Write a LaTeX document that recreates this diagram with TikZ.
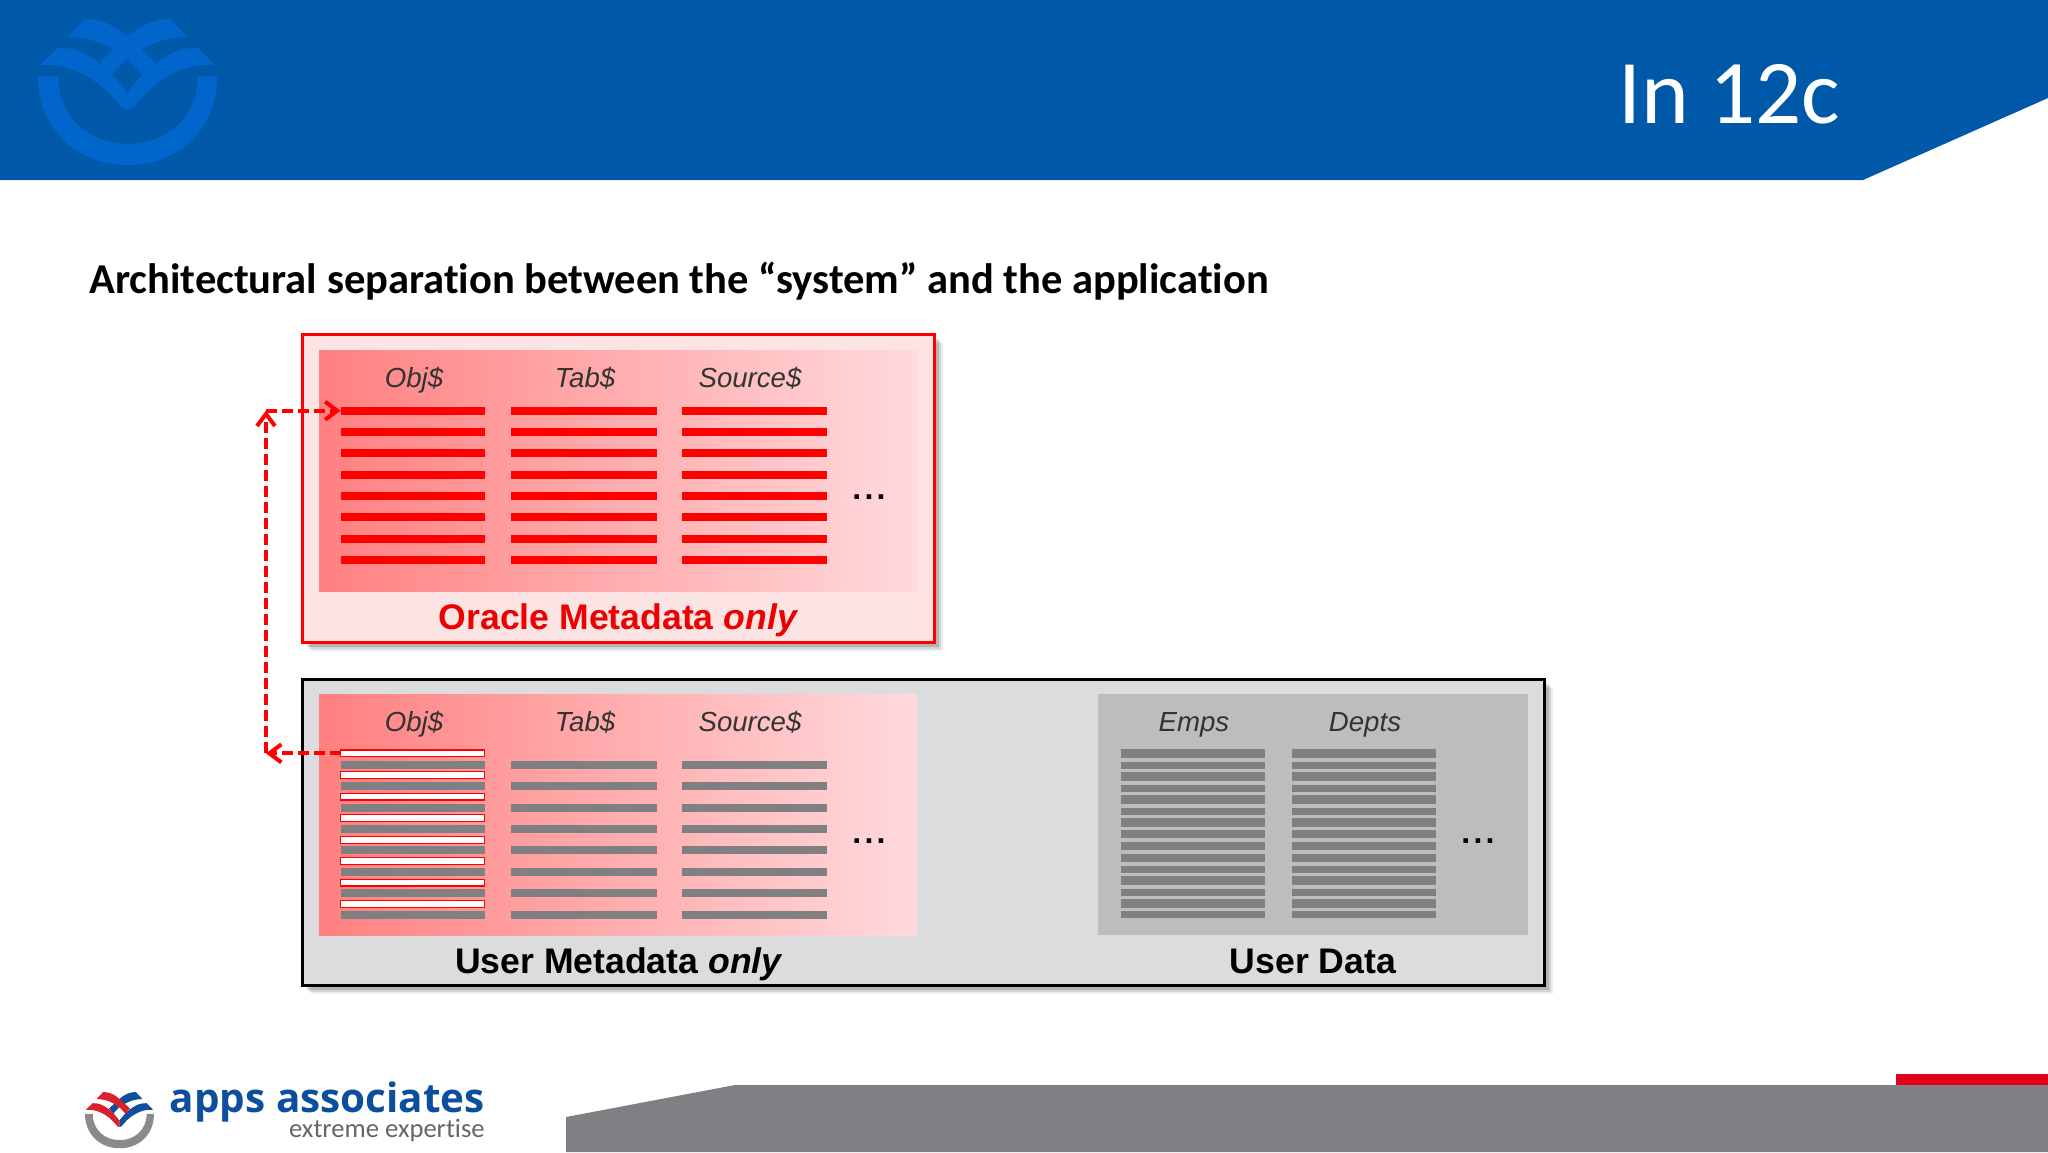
\documentclass[tikz,border=0pt]{standalone}
\usepackage{fontspec}
\setmainfont{Liberation Sans}
\newfontfamily\carlito[Ligatures=NoCommon]{Carlito}
\newfontfamily\opensans{Open Sans}
\newfontfamily\dotsfont[LetterSpace=10]{Liberation Sans}
\usetikzlibrary{arrows.meta}
\definecolor{hdrblue}{HTML}{0059A8}
\definecolor{logoblue}{HTML}{0066CC}
\definecolor{footgray}{HTML}{807F83}
\definecolor{footred}{HTML}{E2001A}
\definecolor{brandblue}{HTML}{0B4F9E}
\definecolor{brandred}{HTML}{D9202C}
\definecolor{ringgray}{HTML}{8A8A8C}
\definecolor{lowerbox}{HTML}{DCDCDE}
\definecolor{userbox}{HTML}{BDBCBE}
\definecolor{barred}{HTML}{FF0000}
\definecolor{bargray}{HTML}{807F81}
\definecolor{redfill}{HTML}{FDE4E4}
\definecolor{gradl}{HTML}{FF8080}
\definecolor{gradr}{HTML}{FFDADD}
\newcommand{\brandmark}[6]{%
\begin{scope}[shift={#1},scale=#2]
\fill[#3] (38,76) -- (58,76) .. controls (58,118) and (90,144) .. (128,144) .. controls (166,144) and (198,118) .. (198,76) -- (217,76) .. controls (217,130) and (178,165) .. (128,165) .. controls (78,165) and (38,130) .. (38,76) -- cycle;
\fill[#5] (187,37) -- (170,19) .. controls (140,19) and (125,40) .. (100,62) -- (112,76) .. controls (130,55) and (150,38) .. (187,37) -- cycle;
\fill[#5] (215,65) -- (198,48) .. controls (170,46) and (145,70) .. (127.5,92) -- (127.5,110) -- (133,108) .. controls (150,85) and (180,62) .. (215,65) -- cycle;
\fill[#4] (68,37) -- (85,19) .. controls (115,19) and (130,40) .. (155,62) -- (143,76) .. controls (125,55) and (105,38) .. (68,37) -- cycle;
\fill[#4] (40,65) -- (58,48) .. controls (85,46) and (110,70) .. (127.5,92) -- (127.5,110) -- (122,108) .. controls (105,85) and (75,62) .. (40,65) -- cycle;
\fill[#6] (127,59) -- (141,74) -- (127,92) -- (113,74) -- cycle;
\end{scope}}
\tikzset{
  x=0.5pt,y=-0.5pt,
  barbase/.style={rectangle,inner sep=0pt,outer sep=0pt},
  redbar/.style={barbase,fill=barred,minimum height=4pt},
  graybar/.style={barbase,fill=bargray,minimum height=4pt},
  whitebar/.style={barbase,fill=white,draw=barred,line width=0.7pt,minimum height=3.3pt,minimum width=72pt},
  col1/.style={minimum width=72pt},
  col2/.style={minimum width=73pt},
  col3/.style={minimum width=72.5pt},
  headlabel/.style={font=\fontsize{13.8}{16}\selectfont\itshape,text=black!80,inner sep=0pt,anchor=base},
  dotslabel/.style={font=\dotsfont\fontsize{16}{20}\selectfont\bfseries,text=black,inner sep=0pt,anchor=base},
  boxtitle/.style={font=\fontsize{17.8}{20}\selectfont\bfseries,inner sep=0pt,anchor=base},
  linkarrow/.style={draw=barred,line width=2pt,dash pattern=on 5.5pt off 2.5pt,
    -{Straight Barb[length=6pt,width=9pt,line width=2pt]}},
}
\begin{document}
\begin{tikzpicture}
\useasboundingbox (0,0) rectangle (2048,1152);
\fill[white] (0,0) rectangle (2048,1152);
% header
\fill[hdrblue] (0,0) -- (2048,0) -- (2048,98) -- (1863,180) -- (0,180) -- cycle;
\brandmark{(0,0)}{1}{logoblue}{logoblue}{logoblue}{hdrblue}
\node[anchor=base west,inner sep=0pt,text=white,font=\carlito\fontsize{45.5}{50}\selectfont] (slidetitle) at (1618,123) {In 12c};
\node[anchor=base west,inner sep=0pt,text=black,font=\carlito\bfseries\fontsize{21.27}{24}\selectfont] (heading) at (89,293) {Architectural separation between the “system” and the application};
% shadows
\foreach \d/\o in {9/0.07,7/0.1,5/0.15}{
  \fill[black,opacity=\o] (302+\d,334+\d) rectangle (934+\d,642+\d);
  \fill[black,opacity=\o] (302+\d,679+\d) rectangle (1544+\d,985+\d);
}
% red box
\node[barbase,fill=redfill,draw=barred,line width=1.5pt,minimum width=316pt,minimum height=154pt] (oraclebox) at (618,488) {};
\node[barbase,left color=gradl,right color=gradr,minimum width=299pt,minimum height=120.5pt] (oraclepanel) at (618,470.5) {};
\node[headlabel] (ot1) at (414,387) {Obj\$};
\node[headlabel] (ot2) at (585,387) {Tab\$};
\node[headlabel] (ot3) at (750,387) {Source\$};
\foreach \i/\y in {1/410.7,2/432,3/453.3,4/474.7,5/496,6/517.3,7/538.7,8/560}{
  \node[redbar,col1] (oa\i) at (412.5,\y) {};
  \node[redbar,col2] (ob\i) at (584,\y) {};
  \node[redbar,col3] (oc\i) at (754.5,\y) {};
}
\node[dotslabel] (odots) at (869,499) {...};
\node[boxtitle,text=barred!93!black] (oracletitle) at (618.5,629) {Oracle Metadata \textit{only}};
% lower box
\node[barbase,fill=lowerbox,draw=black,line width=1.5pt,minimum width=621pt,minimum height=153pt] (lowerbox) at (923,832) {};
\node[barbase,left color=gradl,right color=gradr,minimum width=299pt,minimum height=120.5pt] (userpanel) at (618,814.5) {};
\node[barbase,fill=userbox,minimum width=215pt,minimum height=120.5pt] (datapanel) at (1312.5,814.5) {};
\node[headlabel] (ut1) at (414,731) {Obj\$};
\node[headlabel] (ut2) at (585,731) {Tab\$};
\node[headlabel] (ut3) at (750,731) {Source\$};
\node[headlabel] (ut4) at (1194,731) {Emps};
\node[headlabel] (ut5) at (1365,731) {Depts};
\foreach \i/\y in {1/764.7,2/786,3/807.7,4/829,5/850,6/871.7,7/893,8/914.7}{
  \node[graybar,col1] (ua\i) at (412.5,\y) {};
  \node[graybar,col2] (ub\i) at (584,\y) {};
  \node[graybar,col3] (uc\i) at (754.5,\y) {};
}
\foreach \i/\y in {1/753.3,2/775,3/796.7,4/818,5/840,6/861,7/882.7,8/904}{
  \node[whitebar] (uw\i) at (412.5,\y) {};
}
\foreach \i/\y/\h in {1/753.5/4.5,2/765.2/3.5,3/776.5/4.5,4/788.2/3.5,5/799.3/4.5,6/811.2/3.5,7/822.3/4.5,8/834.2/4.2,9/846/3.7,10/858/4.3,11/869.2/3.5,12/880.3/4.5,13/892.2/3.5,14/903.3/4.5,15/914.5/3.5}{
  \node[graybar,minimum height=\h pt,minimum width=72pt] (da\i) at (1193,\y) {};
  \node[graybar,minimum height=\h pt,minimum width=72pt] (db\i) at (1364,\y) {};
}
\node[dotslabel] (udots) at (869,843) {...};
\node[dotslabel] (ddots) at (1478,843) {...};
\node[boxtitle,text=black] (usertitle) at (619,973) {User Metadata \textit{only}};
\node[boxtitle,text=black] (datatitle) at (1313,973) {User Data};
% links
\coordinate (lowcorner) at (266,0 |- uw1.west);
\coordinate (upcorner) at (266,0 |- oa1.west);
\draw[linkarrow] (uw1.west) -- (lowcorner);
\draw[linkarrow] (lowcorner) -- (upcorner);
\draw[linkarrow] (upcorner) -- (oa1.west);
% footer
\fill[footred] (1896,1074) rectangle (2048,1086);
\fill[footgray] (566,1152) -- (566,1117) -- (735,1085) -- (2048,1085) -- (2048,1152) -- cycle;
\brandmark{(70.4,1084.7)}{0.385}{ringgray}{brandred}{brandblue}{white}
\node[anchor=base east,inner sep=0pt,text=brandblue,font=\opensans\bfseries\fontsize{20.2}{24}\selectfont] (brandname) at (485,1112) {apps associates};
\node[anchor=base east,inner sep=0pt,text=black!60,font=\carlito\fontsize{13.3}{16}\selectfont] (brandtag) at (485,1137) {extreme expertise};
\end{tikzpicture}
\end{document}
